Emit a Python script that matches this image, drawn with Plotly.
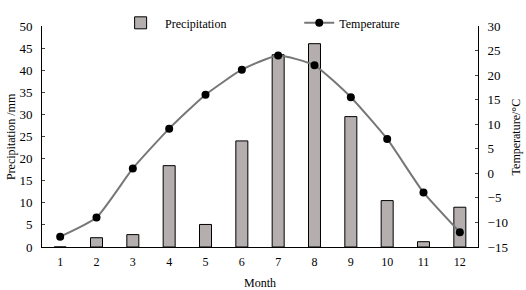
import plotly.graph_objects as go

months = [1, 2, 3, 4, 5, 6, 7, 8, 9, 10, 11, 12]
month_labels = ["1", "2", "3", "4", "5", "6", "7", "8", "9", "10", "11", "12"]
precipitation = [0, 2.1, 2.8, 18.4, 5.1, 24.0, 43.5, 46.0, 29.5, 10.5, 1.2, 9.0]
temperature = [-12.9, -9.0, 1.0, 9.1, 16.0, 21.1, 24.0, 22.0, 15.5, 7.0, -3.9, -12.0]

font_family = "Liberation Serif"

fig = go.Figure()
fig.add_trace(go.Bar(
    x=months, y=precipitation, name="Precipitation",
    marker=dict(color="#b4aeae", line=dict(color="black", width=1)),
    width=0.33, yaxis="y", legend="legend",
))
fig.add_trace(go.Scatter(
    x=months, y=temperature, name="Temperature", mode="lines+markers",
    line=dict(color="#777777", width=2, shape="spline", smoothing=0.5),
    marker=dict(color="black", size=8),
    yaxis="y2", legend="legend2",
))

legend_common = dict(yanchor="top", xanchor="left", bgcolor="rgba(0,0,0,0)",
                     font=dict(family=font_family, size=12, color="black"))

fig.update_layout(
    width=526, height=290,
    margin=dict(l=42, r=48, t=8, b=43),
    plot_bgcolor="white", paper_bgcolor="white",
    font=dict(family=font_family, size=12, color="black"),
    showlegend=True,
    legend=dict(x=0.17, y=1.08, itemwidth=39, **legend_common),
    legend2=dict(x=0.59, y=1.08, **legend_common),
    xaxis=dict(
        tickmode="array", tickvals=months, ticktext=month_labels,
        range=[0.5, 12.5], showgrid=False, zeroline=False,
        showline=True, linecolor="black", linewidth=1, ticks="",
        tickfont=dict(size=12), ticklabelstandoff=4, automargin=False,
    ),
    yaxis=dict(
        range=[0, 50], dtick=5, showgrid=False, zeroline=False,
        showline=True, linecolor="black", linewidth=1,
        ticks="inside", ticklen=3, tickfont=dict(size=13),
        ticklabelstandoff=6, automargin=False,
    ),
    yaxis2=dict(
        range=[-15, 30], dtick=5, overlaying="y", side="right",
        showgrid=False, zeroline=False,
        showline=True, linecolor="black", linewidth=1,
        ticks="inside", ticklen=3, tickfont=dict(size=13),
        ticklabelstandoff=6, automargin=False,
    ),
    annotations=[
        dict(text="Precipitation /mm", xref="paper", yref="paper", x=-0.072, y=0.5,
             textangle=-90, showarrow=False, font=dict(size=12), xanchor="center", yanchor="middle"),
        dict(text="Temperature/°C", xref="paper", yref="paper", x=1.087, y=0.5,
             textangle=-90, showarrow=False, font=dict(size=12), xanchor="center", yanchor="middle"),
        dict(text="Month", xref="paper", yref="paper", x=0.5, y=-0.163,
             showarrow=False, font=dict(size=12), xanchor="center", yanchor="middle"),
    ],
)

fig.write_html("out.html", config={"displayModeBar": False},
               post_script="document.body.style.margin='0';")
